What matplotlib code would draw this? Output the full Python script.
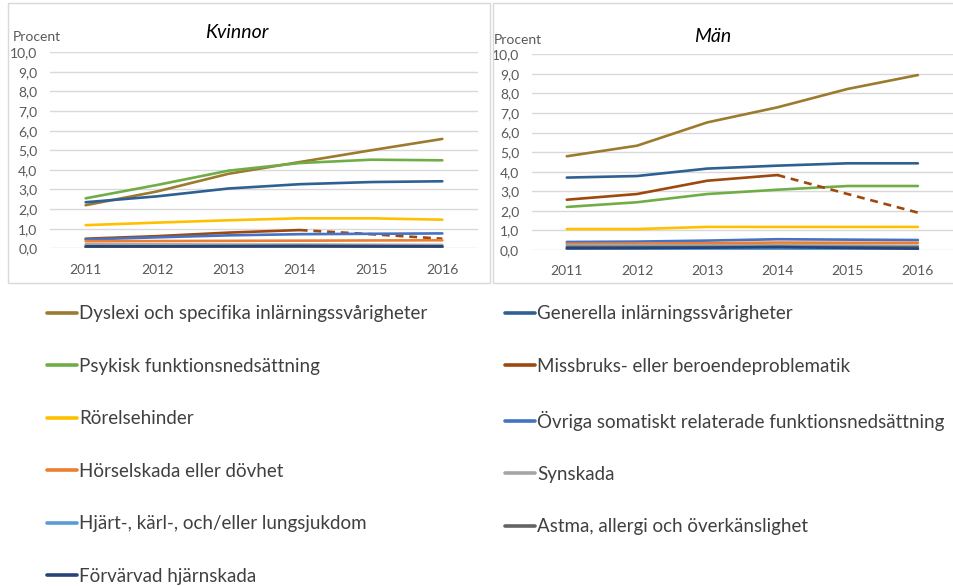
import numpy as np
import matplotlib
matplotlib.use("Agg")
import matplotlib.pyplot as plt
from matplotlib.patches import Rectangle
from matplotlib.ticker import FuncFormatter

plt.rcParams.update({"font.family": ["Lato", "DejaVu Sans"]})

YEARS = [2011, 2012, 2013, 2014, 2015, 2016]
LABELS = ["Dyslexi och specifika inlärningssvårigheter", "Generella inlärningssvårigheter",
          "Psykisk funktionsnedsättning", "Missbruks- eller beroendeproblematik",
          "Rörelsehinder", "Övriga somatiskt relaterade funktionsnedsättning",
          "Hörselskada eller dövhet", "Synskada",
          "Hjärt-, kärl-, och/eller lungsjukdom", "Astma, allergi och överkänslighet",
          "Förvärvad hjärnskada"]
COLORS = ["#9C7A2E", "#2E6093", "#70AD47", "#9E480E", "#FFC000", "#4472C4",
          "#ED7D31", "#A5A5A5", "#5B9BD5", "#636363", "#264478"]

# Kvinnor, percent per year (same order as LABELS)
KVINNOR = [
    [2.20, 2.90, 3.80, 4.40, 5.00, 5.58],
    [2.35, 2.65, 3.05, 3.27, 3.38, 3.42],
    [2.55, 3.23, 3.96, 4.35, 4.52, 4.49],
    [0.49, 0.62, 0.80, 0.93, 0.72, 0.49],
    [1.18, 1.31, 1.43, 1.53, 1.53, 1.46],
    [0.45, 0.56, 0.66, 0.72, 0.74, 0.76],
    [0.36, 0.37, 0.38, 0.39, 0.40, 0.41],
    [0.20, 0.20, 0.19, 0.19, 0.18, 0.17],
    [0.03, 0.03, 0.04, 0.04, 0.04, 0.04],
    [0.08, 0.08, 0.09, 0.09, 0.08, 0.08],
    [0.10, 0.10, 0.11, 0.12, 0.11, 0.10],
]
# Män
MAN = [
    [4.79, 5.33, 6.52, 7.29, 8.23, 8.94],
    [3.70, 3.78, 4.16, 4.31, 4.43, 4.43],
    [2.20, 2.44, 2.86, 3.08, 3.27, 3.27],
    [2.57, 2.86, 3.54, 3.83, 2.86, 1.91],
    [1.07, 1.07, 1.18, 1.18, 1.18, 1.18],
    [0.41, 0.43, 0.48, 0.55, 0.53, 0.51],
    [0.32, 0.33, 0.35, 0.38, 0.37, 0.37],
    [0.25, 0.25, 0.24, 0.24, 0.23, 0.22],
    [0.06, 0.06, 0.06, 0.06, 0.05, 0.05],
    [0.15, 0.15, 0.15, 0.16, 0.15, 0.14],
    [0.09, 0.10, 0.12, 0.15, 0.11, 0.07],
]
DASH_FROM = 3   # Missbruk series is dashed from 2014 on
MISSBRUK = 3

W, H = 954, 586
fig = plt.figure(figsize=(W / 100, H / 100), dpi=100)

# panel frames
for x0, x1 in [(8, 490), (493, 960)]:
    fig.patches.append(Rectangle((x0 / W, 1 - 283 / H), (x1 - x0) / W, 280 / H,
                                 transform=fig.transFigure, fill=False,
                                 edgecolor="#D9D9D9", linewidth=1.0))

panels = [("Kvinnor", KVINNOR, [50, 478, 52.3, 248.3], (237, 33), (13, 37)),
          ("Män", MAN, [531.7, 953, 54.3, 250], (713, 37), (494, 40))]

handles = []
for title, data, (l, r, t, b), tpos, ppos in panels:
    ax = fig.add_axes([l / W, 1 - b / H, (r - l) / W, (b - t) / H])
    for i, vals in enumerate(data):
        if i == MISSBRUK:
            h, = ax.plot(YEARS[:DASH_FROM + 1], vals[:DASH_FROM + 1], color=COLORS[i],
                         lw=1.9, solid_capstyle="round")
            ax.plot(YEARS[DASH_FROM:], vals[DASH_FROM:], color=COLORS[i], lw=1.9,
                    dashes=(3, 2.2))
        else:
            h, = ax.plot(YEARS, vals, color=COLORS[i], lw=1.9, solid_capstyle="round")
        if title == "Kvinnor":
            handles.append(h)
    ax.set_xlim(2010.5, 2016.5)
    ax.set_ylim(0, 10)
    ax.set_yticks(np.arange(0, 11, 1))
    ax.yaxis.set_major_formatter(FuncFormatter(lambda v, p: f"{v:.1f}".replace(".", ",")))
    ax.set_xticks(YEARS)
    ax.grid(axis="y", color="#D9D9D9", lw=1.0)
    ax.set_axisbelow(True)
    for s in ax.spines.values():
        s.set_visible(False)
    ax.tick_params(length=0, colors="#595959", labelsize=10)
    ax.tick_params(axis="y", pad=9)
    ax.tick_params(axis="x", pad=11)
    fig.text(tpos[0] / W, 1 - tpos[1] / H, title, ha="center", va="center",
             fontsize=14, style="italic", color="black")
    fig.text(ppos[0] / W, 1 - ppos[1] / H, "Procent", ha="left", va="center",
             fontsize=10, color="#595959")

# legend, read row-wise in two columns
leg_kw = dict(loc="upper left", frameon=False, fontsize=13.5, handlelength=1.6,
              handletextpad=0.12, labelspacing=1.89, borderpad=0, borderaxespad=0,
              labelcolor="#404040")
left = fig.legend(handles[0::2], LABELS[0::2], bbox_to_anchor=(47 / W, 1 - 305.5 / H), **leg_kw)
right = fig.legend(handles[1::2], LABELS[1::2], bbox_to_anchor=(505 / W, 1 - 305.5 / H), **leg_kw)
for leg in (left, right):
    for ln in leg.get_lines():
        ln.set_linewidth(2.6)
        ln.set_linestyle("-")

fig.savefig("out.png", dpi=100)
